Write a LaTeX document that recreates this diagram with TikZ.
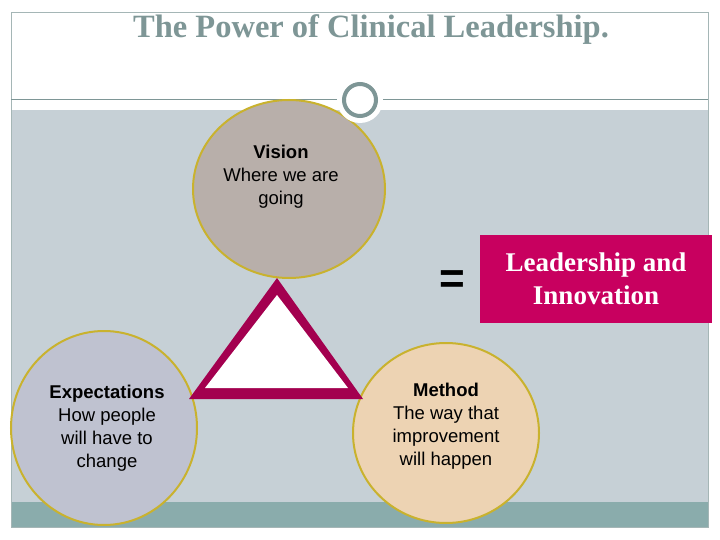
\documentclass[tikz,border=0pt]{standalone}
\usepackage{fontspec}
\setmainfont{Liberation Serif}
\setsansfont{Liberation Sans}
\usepackage{xcolor}
\usetikzlibrary{shapes.geometric,positioning,calc}

\definecolor{panel}{HTML}{C6D0D6}
\definecolor{band}{HTML}{8AACAC}
\definecolor{slate}{HTML}{7E9696}
\definecolor{rimgold}{HTML}{C9B22E}
\definecolor{berry}{HTML}{A3004F}
\definecolor{magbox}{HTML}{C8005F}
\definecolor{visionfill}{HTML}{B8AFAA}
\definecolor{expectfill}{HTML}{BFC2D0}
\definecolor{methodfill}{HTML}{EDD3B3}

\begin{document}
\begin{tikzpicture}[x=1pt, y=-1pt,
    bubble/.style={ellipse, draw=rimgold, line width=2pt, inner sep=0pt},
    caption/.style={align=center, font=\sffamily\fontsize{18.5}{23}\selectfont},
    result/.style={fill=magbox, text=white, align=center, inner sep=0pt,
                   font=\bfseries\fontsize{27}{33}\selectfont}]
  \useasboundingbox (0,0) rectangle (720,540);
  \fill[white] (0,0) rectangle (720,540);
  % slide background
  \fill[panel] (11,110) rectangle (708,502);
  \fill[band] (11,502) rectangle (708,527);
  \draw[slate!70, line width=0.6pt] (11,12) rectangle (708,527);
  \draw[slate, line width=1pt] (11,100) -- (708,100);
  \node[text=slate, font=\bfseries\fontsize{32.5}{34}\selectfont] (title) at (371,30)
    {The Power of Clinical Leadership.};
  % the three parts
  \node[bubble, fill=visionfill, minimum width=192pt, minimum height=178pt] (vision)
    at (289,189) {};
  \node[caption, anchor=north] (visiontxt) at (281,142)
    {\textbf{Vision}\\Where we are\\going};
  \node[bubble, fill=expectfill, minimum width=186pt, minimum height=194pt] (expect)
    at (104,428) {};
  \node[caption] (expecttxt) at (107,428)
    {\textbf{Expectations}\\How people\\will have to\\change};
  \node[bubble, fill=methodfill, minimum width=186pt, minimum height=180pt] (method)
    at (446,433) {};
  \node[caption] (methodtxt) at (446,426)
    {\textbf{Method}\\The way that\\improvement\\will happen};
  % ring on the header line
  \fill[white] (360,100) circle (23);
  \draw[slate, line width=4pt, fill=white] (360,100) circle (16);
  % triangle
  \fill[berry] (277,278) -- (189,399) -- (363,399) -- cycle;
  \fill[white] (277,295) -- (205,388) -- (348,388) -- cycle;
  % result
  \node[font=\sffamily\bfseries\fontsize{44}{44}\selectfont] (equals) at (452,282) {=};
  \node[result, minimum width=232pt, minimum height=88pt] (lead) at (596,279)
    {Leadership and\\Innovation};
\end{tikzpicture}
\end{document}
